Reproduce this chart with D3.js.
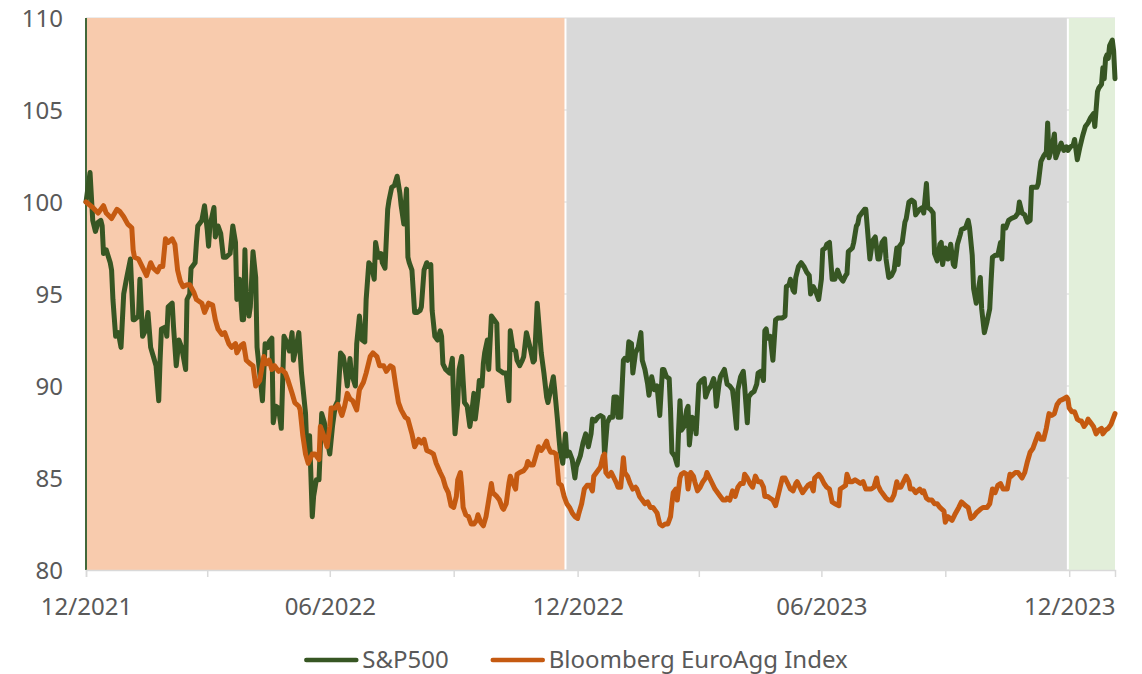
<!DOCTYPE html>
<html>
<head>
<meta charset="utf-8">
<script src="https://cdn.jsdelivr.net/npm/d3@7"></script>
<style>
  html, body { margin: 0; padding: 0; background: #ffffff; }
  svg text { font-family: "Noto Sans", "Open Sans", sans-serif; fill: #595959; }
</style>
</head>
<body>
<svg id="chart" width="1142" height="674"></svg>
<script>
// Both indices rebased to 100 on 31 Dec 2021; x = days since that date.
const baseDate = "2021-12-31";
const lastDate = "2024-02-03";

const sp500 = [
  [0,100.0],[3,101.6],[5,99.0],[7,98.4],[9,98.9],[11,99.0],[12,98.7],[13,97.2],[15,97.4],[18,96.7],[19,96.3],[20,94.7],
  [22,92.7],[24,92.9],[26,92.1],[28,95.0],[30,95.8],[33,96.9],[35,93.6],[36,93.6],[39,93.8],[40,95.8],[42,92.7],[44,93.0],
  [46,94.0],[48,92.1],[50,91.6],[52,91.1],[54,89.2],[55,91.4],[56,93.1],[59,93.2],[60,92.7],[61,94.3],[64,94.5],[65,93.2],
  [67,91.1],[69,92.5],[71,92.1],[74,90.9],[75,94.7],[77,95.0],[78,96.4],[81,96.7],[82,97.8],[83,98.7],[86,99.0],[88,99.8],
  [90,98.5],[91,97.6],[92,98.7],[95,99.7],[96,98.1],[98,98.7],[100,98.3],[102,97.0],[104,97.0],[107,97.2],[109,98.7],[111,97.8],
  [112,94.7],[114,95.8],[116,93.6],[117,93.6],[118,97.4],[119,94.7],[121,93.8],[122,94.3],[124,97.3],[126,95.9],[127,92.1],[129,90.7],
  [131,89.2],[133,92.3],[135,92.1],[136,92.4],[138,92.6],[139,88.0],[141,88.9],[143,88.8],[145,87.7],[147,92.7],[149,92.4],[151,91.9],
  [153,92.9],[154,91.4],[156,92.1],[158,92.9],[160,90.7],[163,88.5],[164,86.5],[166,87.3],[168,82.9],[169,84.0],[171,84.9],[173,84.9],
  [175,88.5],[177,88.0],[179,87.1],[181,86.3],[183,87.8],[185,88.9],[187,89.2],[189,91.8],[191,91.6],[192,91.2],[194,90.0],[196,91.5],
  [197,90.7],[200,90.0],[201,92.3],[203,93.8],[205,92.5],[207,92.4],[208,94.7],[210,96.7],[212,96.5],[214,95.8],[215,97.8],[217,97.0],
  [219,97.2],[220,96.7],[222,96.4],[224,99.6],[225,100.1],[227,100.8],[229,100.9],[231,101.4],[233,100.5],[234,99.8],[236,98.8],[238,100.7],
  [239,97.0],[240,96.7],[242,96.3],[244,94.0],[246,94.0],[248,94.1],[249,94.3],[251,96.3],[253,96.7],[254,96.5],[256,96.6],[257,94.1],
  [259,92.7],[261,92.5],[263,93.0],[264,92.7],[265,91.2],[267,90.9],[270,90.7],[272,91.5],[273,89.1],[274,87.4],[276,89.1],[277,90.9],
  [279,91.6],[280,90.3],[281,89.1],[283,88.9],[285,87.8],[286,88.3],[288,89.6],[289,88.2],[291,89.4],[292,90.3],[294,90.0],[295,91.2],
  [296,91.8],[298,92.5],[299,90.9],[301,93.8],[303,93.6],[305,93.4],[306,90.9],[308,90.8],[310,90.7],[312,90.7],[314,89.2],[315,93.0],
  [317,92.0],[319,91.9],[320,91.4],[322,91.1],[324,91.4],[325,91.6],[327,92.9],[328,92.6],[330,92.0],[332,91.3],[333,91.4],[335,94.5],
  [337,92.7],[338,91.8],[340,90.7],[342,89.4],[343,89.1],[345,89.8],[347,90.5],[348,89.8],[350,88.2],[351,87.3],[352,86.5],[354,85.8],
  [356,87.4],[357,86.2],[359,86.4],[361,86.0],[363,85.0],[364,85.6],[367,86.2],[369,86.9],[371,87.4],[373,86.7],[375,87.4],[376,88.2],
  [378,88.1],[380,88.3],[382,88.4],[384,88.3],[385,86.2],[387,88.0],[389,88.3],[391,88.3],[392,89.4],[394,89.4],[395,88.3],[397,88.3],
  [399,91.4],[400,91.5],[402,91.4],[403,92.4],[405,92.3],[406,90.7],[408,91.8],[410,92.1],[412,92.9],[413,91.4],[415,90.9],[417,90.1],
  [418,89.5],[420,90.5],[422,89.8],[424,90.0],[425,89.2],[426,88.4],[428,90.9],[429,90.9],[431,90.5],[433,90.4],[434,88.7],[435,86.4],
  [437,86.2],[439,85.7],[440,87.6],[441,89.2],[442,87.6],[444,87.8],[446,88.7],[447,88.9],[448,86.8],[450,88.3],[452,88.2],[453,87.4],
  [454,88.7],[455,90.1],[457,90.3],[459,90.4],[460,89.4],[462,89.8],[464,90.0],[466,90.4],[467,90.0],[468,88.9],[470,90.1],[471,90.5],
  [474,90.9],[476,90.1],[478,90.0],[480,89.8],[481,89.2],[483,87.7],[484,89.8],[486,90.5],[488,90.8],[489,90.0],[491,88.0],[492,89.4],
  [494,89.6],[496,89.7],[498,90.1],[499,90.7],[501,90.8],[503,90.3],[504,93.0],[505,93.1],[506,92.6],[508,92.7],[510,91.4],[512,93.6],
  [514,93.7],[517,93.7],[519,93.8],[520,95.4],[522,95.5],[523,95.8],[525,95.2],[526,95.1],[527,95.9],[529,96.5],[531,96.7],[533,96.5],
  [535,96.2],[537,96.0],[538,95.0],[540,95.4],[542,95.1],[544,94.7],[546,95.8],[547,97.4],[549,97.5],[550,97.7],[552,97.8],[554,95.8],
  [556,95.8],[558,96.3],[560,95.9],[562,95.7],[564,96.0],[565,96.1],[566,97.3],[569,97.5],[570,97.8],[572,98.7],[573,98.8],[574,99.2],
  [576,99.4],[578,99.6],[579,99.6],[580,98.7],[582,96.9],[584,97.9],[586,98.1],[588,96.9],[589,96.9],[591,97.8],[593,98.0],[594,96.9],
  [596,95.9],[598,96.0],[600,96.3],[602,97.5],[603,96.6],[604,97.6],[606,97.8],[608,98.9],[609,99.1],[611,100.0],[613,100.1],[615,100.0],
  [616,99.3],[619,99.6],[621,99.7],[622,99.4],[624,101.0],[625,99.7],[627,99.6],[629,99.4],[630,97.2],[632,96.8],[634,97.7],[635,97.8],
  [636,96.6],[638,97.5],[640,96.9],[642,97.7],[644,96.6],[645,96.5],[647,97.7],[649,98.2],[650,98.5],[653,98.6],[655,99.0],[656,98.6],
  [658,97.1],[659,95.3],[661,94.5],[664,95.9],[665,94.2],[667,92.9],[669,93.5],[671,94.2],[672,95.7],[673,97.0],[675,97.1],[677,97.1],
  [679,97.8],[680,96.9],[681,98.7],[683,98.6],[685,99.0],[687,99.1],[690,99.2],[692,99.4],[693,100.0],[695,99.4],[697,99.3],[699,98.9],
  [701,99.0],[702,100.8],[703,100.8],[706,100.8],[707,101.0],[709,102.2],[711,102.5],[713,102.7],[714,104.3],[715,102.4],[717,102.9],[719,103.7],
  [720,102.4],[722,102.8],[724,103.2],[726,102.8],[728,103.0],[729,102.8],[731,103.0],[733,103.1],[734,103.4],[736,102.3],[738,103.0],[740,103.6],
  [742,104.1],[744,104.3],[746,104.6],[748,104.8],[749,104.1],[751,106.0],[752,106.2],[754,106.4],[755,107.3],[756,106.7],[757,107.8],[758,108.0],
  [759,107.8],[760,108.5],[762,108.8],[763,108.2],[764,106.7]
];

const euroAgg = [
  [0,100.0],[5,99.7],[9,99.4],[13,99.8],[15,99.4],[19,99.1],[23,99.6],[25,99.5],[28,99.2],[31,98.8],[34,98.6],[35,97.4],
  [36,97.0],[39,96.9],[43,96.3],[45,96.0],[48,96.7],[50,96.4],[53,96.2],[55,96.5],[57,96.5],[59,98.0],[61,97.8],[64,98.0],
  [66,97.7],[68,96.3],[70,95.7],[72,95.4],[75,95.5],[77,95.5],[80,95.1],[82,94.7],[86,94.5],[88,94.0],[91,94.5],[94,94.4],
  [96,93.6],[98,93.1],[101,92.8],[103,92.9],[106,92.3],[108,92.1],[111,92.3],[112,91.8],[115,92.2],[117,92.3],[119,91.4],[122,91.2],
  [124,91.1],[126,90.0],[129,90.3],[132,91.6],[134,91.2],[136,91.4],[138,90.9],[140,91.1],[143,90.8],[145,90.9],[148,90.7],[150,90.3],
  [153,89.6],[155,89.1],[158,88.9],[159,88.7],[161,87.3],[163,86.3],[165,85.8],[168,86.3],[170,86.3],[173,86.0],[174,87.8],[176,87.4],
  [179,86.7],[181,87.8],[182,88.8],[185,88.8],[187,89.0],[190,88.4],[192,88.9],[194,89.6],[196,89.3],[198,89.2],[201,88.7],[203,89.8],
  [206,90.2],[208,90.7],[211,91.6],[213,91.8],[216,91.6],[218,91.1],[221,91.1],[223,90.8],[226,91.1],[228,91.0],[230,90.0],[232,89.1],
  [234,88.7],[237,88.3],[239,88.2],[242,87.4],[244,86.7],[247,87.1],[249,86.9],[251,87.1],[253,86.5],[256,86.4],[258,86.3],[260,85.8],
  [263,85.3],[265,85.0],[267,84.5],[269,84.2],[271,83.5],[273,83.4],[275,84.0],[276,84.9],[278,85.3],[279,84.5],[280,83.4],[282,83.0],
  [284,82.9],[286,82.5],[288,82.5],[290,82.7],[291,83.0],[293,82.6],[295,82.4],[297,82.9],[299,83.8],[301,84.7],[302,84.2],[305,84.0],
  [307,83.8],[309,83.4],[310,83.3],[312,83.6],[314,84.7],[315,85.1],[317,84.7],[319,84.4],[320,85.2],[322,85.3],[325,85.4],[327,85.6],
  [328,85.9],[330,85.7],[332,85.7],[334,86.2],[336,86.7],[338,86.5],[340,86.7],[342,87.0],[343,86.7],[345,86.4],[347,86.4],[349,86.3],
  [351,84.7],[353,84.6],[355,84.0],[357,83.6],[359,83.4],[361,83.1],[363,82.9],[365,82.8],[366,83.1],[368,83.6],[370,84.4],[372,84.6],
  [374,84.6],[376,84.3],[377,85.1],[379,85.3],[382,85.6],[384,86.2],[385,86.3],[386,85.3],[388,85.1],[390,85.3],[392,85.0],[394,84.7],
  [395,84.5],[397,84.5],[399,86.1],[400,85.3],[402,85.1],[404,84.7],[406,84.4],[408,84.5],[409,84.4],[411,84.0],[413,83.8],[415,83.6],
  [417,83.7],[419,83.4],[421,83.4],[423,83.2],[424,83.1],[426,82.5],[428,82.4],[430,82.5],[432,82.5],[434,82.9],[435,83.6],[436,84.2],
  [438,84.4],[439,83.8],[441,85.0],[442,85.2],[444,85.3],[446,85.2],[447,84.4],[449,85.3],[451,85.1],[452,84.8],[454,84.3],[456,84.5],
  [458,84.8],[460,85.0],[461,85.3],[463,85.0],[465,84.7],[467,84.4],[469,84.2],[471,84.0],[473,83.8],[475,83.8],[476,83.9],[478,83.8],
  [480,84.3],[482,84.0],[484,84.5],[486,84.7],[488,84.7],[489,85.2],[491,85.0],[493,84.7],[495,84.5],[497,85.1],[499,84.8],[501,84.8],
  [503,84.5],[504,84.0],[506,84.0],[508,83.9],[510,83.8],[512,83.5],[515,84.4],[517,85.0],[519,85.0],[521,84.7],[523,84.4],[525,84.3],
  [527,84.7],[528,84.8],[530,84.5],[532,84.2],[534,84.4],[536,84.6],[538,84.7],[540,84.3],[541,85.0],[544,85.2],[546,85.0],[548,84.7],
  [550,84.5],[552,84.4],[554,83.7],[556,83.6],[559,83.5],[560,84.4],[562,84.5],[564,84.6],[565,85.2],[567,84.8],[569,84.8],[571,84.9],
  [573,84.8],[575,84.7],[577,84.8],[579,84.4],[581,84.4],[583,84.4],[585,84.5],[587,85.0],[588,84.6],[590,84.3],[592,84.1],[594,83.9],
  [596,83.8],[598,83.8],[600,84.1],[602,84.8],[603,84.5],[605,84.5],[607,84.8],[609,85.1],[611,84.8],[612,84.4],[614,84.4],[616,84.2],
  [619,84.4],[621,84.2],[622,84.3],[624,83.9],[626,83.8],[628,83.8],[630,83.6],[632,83.6],[634,83.4],[637,83.2],[638,82.6],[640,82.9],
  [643,82.7],[645,83.0],[648,83.4],[650,83.7],[653,83.5],[655,83.4],[657,82.8],[659,82.9],[661,83.1],[664,83.3],[666,83.4],[669,83.4],
  [671,83.6],[673,84.4],[675,84.2],[677,84.6],[679,84.7],[681,84.4],[684,84.4],[686,85.2],[687,85.1],[690,85.3],[692,85.3],[695,85.0],
  [697,85.3],[699,85.9],[701,86.4],[703,86.6],[705,87.0],[707,87.4],[709,87.1],[711,87.1],[713,87.7],[715,88.5],[717,88.4],[719,88.5],
  [721,89.0],[723,89.2],[726,89.3],[728,89.4],[729,89.3],[730,88.8],[732,88.6],[734,88.6],[736,88.2],[738,88.1],[739,88.1],[741,87.8],
  [743,88.0],[744,88.2],[746,88.0],[748,87.8],[750,87.4],[752,87.6],[754,87.7],[755,87.4],[757,87.6],[759,87.7],[761,87.9],[762,88.1],
  [764,88.5]
];

// Market phases shaded behind the lines
const phaseStarts = ["2021-12-31", "2022-12-22", "2023-12-30"];
const phaseEnds   = ["2022-12-22", "2023-12-30", "2024-02-03"];

const yTicks = [80, 85, 90, 95, 100, 105, 110];
const xTickDates = ["2021-12-31", "2022-03-31", "2022-06-30", "2022-09-30", "2022-12-31",
                    "2023-03-31", "2023-06-30", "2023-09-30", "2023-12-31"];
const xLabelDates = ["2021-12-31", "2022-06-30", "2022-12-31", "2023-06-30", "2023-12-31"];
const seriesNames = ["S&P500", "Bloomberg EuroAgg Index"];

// ---- styling ----
const phaseFills = ["#f8cbad", "#d9d9d9", "#e2efda"];
const seriesColors = ["#375623", "#c55a11"];
const gridColor = "#d9d9d9";

const margin = { left: 86, right: 1115, top: 18, bottom: 570 };
const parse = d3.utcParse("%Y-%m-%d");
const base = parse(baseDate);
const toPoints = arr => arr.map(([d, v]) => ({ date: d3.utcDay.offset(base, d), value: v }));

const svg = d3.select("#chart");

const x = d3.scaleUtc()
  .domain([base, parse(lastDate)])
  .range([margin.left, margin.right]);
const y = d3.scaleLinear()
  .domain([80, 110])
  .range([margin.bottom, margin.top]);

// gridlines (mostly hidden under the phase bands)
svg.append("g").selectAll("line").data(yTicks).join("line")
  .attr("x1", margin.left).attr("x2", margin.right)
  .attr("y1", d => y(d)).attr("y2", d => y(d))
  .attr("stroke", gridColor).attr("stroke-width", 1);

// phase bands, separated by a thin white gap
const phases = phaseStarts.map((s, i) => ({ start: parse(s), end: parse(phaseEnds[i]), fill: phaseFills[i] }));
svg.append("g").selectAll("rect").data(phases).join("rect")
  .attr("x", (d, i) => x(d.start) + (i > 0 ? 1 : 0))
  .attr("width", (d, i) => x(d.end) - x(d.start) - (i > 0 ? 1 : 0) - (i < phases.length - 1 ? 1 : 0))
  .attr("y", y(110))
  .attr("height", y(80) - y(110))
  .attr("fill", d => d.fill);

// left edge marker
svg.append("line")
  .attr("x1", margin.left).attr("x2", margin.left)
  .attr("y1", y(110)).attr("y2", y(80))
  .attr("stroke", "#41683a").attr("stroke-width", 2);

// x axis
const labelSet = new Set(xLabelDates);
const fmt = d3.utcFormat("%m/%Y");
const xAxis = d3.axisBottom(x)
  .tickValues(xTickDates.map(parse))
  .tickSize(7)
  .tickFormat(d => labelSet.has(d3.utcFormat("%Y-%m-%d")(d)) ? fmt(d) : "");
const gx = svg.append("g")
  .attr("transform", `translate(0,${margin.bottom})`)
  .call(xAxis);
gx.select(".domain").attr("stroke", gridColor).attr("stroke-width", 1.5);
gx.selectAll(".tick line").attr("stroke", gridColor).attr("stroke-width", 1.5);
gx.selectAll(".tick text")
  .attr("y", 28).attr("dy", "0.71em")
  .style("font-size", "24px").style("font-family", "'Noto Sans', sans-serif")
  .attr("fill", "#595959");
gx.attr("font-family", null).attr("font-size", null);

// y axis labels
const yAxis = d3.axisLeft(y).tickValues(yTicks).tickSize(0).tickPadding(23);
const gy = svg.append("g")
  .attr("transform", `translate(${margin.left},0)`)
  .call(yAxis);
gy.select(".domain").remove();
gy.selectAll(".tick text")
  .attr("dy", "0.34em")
  .style("font-size", "24px").style("font-family", "'Noto Sans', sans-serif")
  .attr("fill", "#595959");
gy.attr("font-family", null).attr("font-size", null);

// series lines
const line = d3.line().x(d => x(d.date)).y(d => y(d.value));
const series = [toPoints(sp500), toPoints(euroAgg)];
svg.append("g").selectAll("path").data(series).join("path")
  .attr("d", line)
  .attr("fill", "none")
  .attr("stroke", (d, i) => seriesColors[i])
  .attr("stroke-width", 5)
  .attr("stroke-linejoin", "round")
  .attr("stroke-linecap", "round");

// legend
const legend = svg.append("g");
const swatchW = 52, swatchGap = 4, itemGap = 42;
let cursor = 0;
seriesNames.forEach((name, i) => {
  const g = legend.append("g");
  g.append("line")
    .attr("x1", 2).attr("x2", swatchW)
    .attr("y1", 0).attr("y2", 0)
    .attr("stroke", seriesColors[i]).attr("stroke-width", 4.5)
    .attr("stroke-linecap", "round");
  const t = g.append("text")
    .attr("x", swatchW + swatchGap + 2)
    .attr("y", 0).attr("dy", "0.35em")
    .style("font-size", "24px")
    .text(name);
  const w = swatchW + swatchGap + 2 + t.node().getComputedTextLength();
  g.attr("transform", `translate(${cursor},0)`);
  cursor += w + itemGap;
});
const legendWidth = cursor - itemGap;
legend.attr("transform", `translate(${576 - legendWidth / 2},660)`);
</script>
</body>
</html>
